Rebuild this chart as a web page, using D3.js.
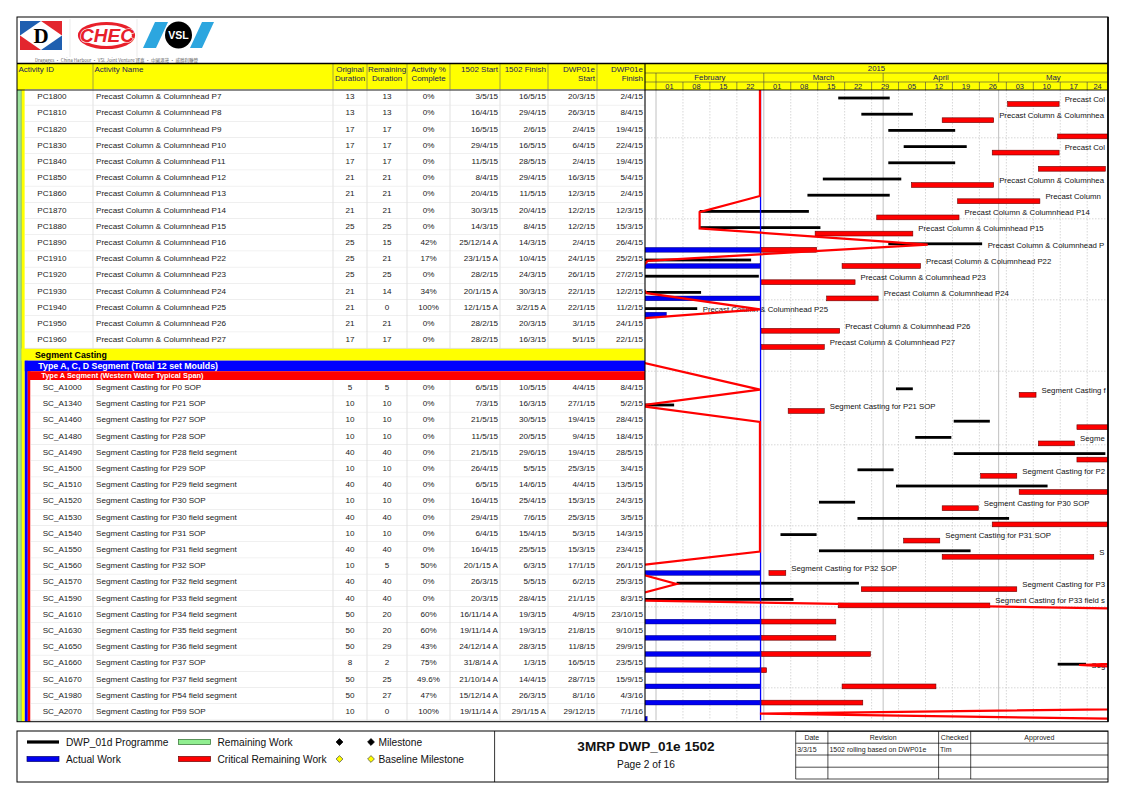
<!DOCTYPE html>
<html>
<head>
<meta charset="utf-8">
<script src="https://cdn.jsdelivr.net/npm/d3@7"></script>
<style>
  body { margin: 0; background: #fff; }
  svg { display: block; font-family: "Liberation Sans", Arial, sans-serif; }
</style>
</head>
<body>
<svg id="chart" width="1123" height="793"></svg>
<script>
// Activities on this page
const activityIds = [
  "PC1800", "PC1810", "PC1820", "PC1830", "PC1840", "PC1850", "PC1860", "PC1870",
  "PC1880", "PC1890", "PC1910", "PC1920", "PC1930", "PC1940", "PC1950", "PC1960",
  "SC_A1000", "SC_A1340", "SC_A1460", "SC_A1480", "SC_A1490", "SC_A1500", "SC_A1510",
  "SC_A1520", "SC_A1530", "SC_A1540", "SC_A1550", "SC_A1560", "SC_A1570", "SC_A1590",
  "SC_A1610", "SC_A1630", "SC_A1650", "SC_A1660", "SC_A1670", "SC_A1980", "SC_A2070"
];
const activityNames = [
  "Precast Column & Columnhead P7", "Precast Column & Columnhead P8", "Precast Column & Columnhead P9",
  "Precast Column & Columnhead P10", "Precast Column & Columnhead P11", "Precast Column & Columnhead P12",
  "Precast Column & Columnhead P13", "Precast Column & Columnhead P14", "Precast Column & Columnhead P15",
  "Precast Column & Columnhead P16", "Precast Column & Columnhead P22", "Precast Column & Columnhead P23",
  "Precast Column & Columnhead P24", "Precast Column & Columnhead P25", "Precast Column & Columnhead P26",
  "Precast Column & Columnhead P27",
  "Segment Casting for P0 SOP", "Segment Casting for P21 SOP", "Segment Casting for P27 SOP",
  "Segment Casting for P28 SOP", "Segment Casting for P28 field segment", "Segment Casting for P29 SOP",
  "Segment Casting for P29 field segment", "Segment Casting for P30 SOP", "Segment Casting for P30 field segment",
  "Segment Casting for P31 SOP", "Segment Casting for P31 field segment", "Segment Casting for P32 SOP",
  "Segment Casting for P32 field segment", "Segment Casting for P33 field segment",
  "Segment Casting for P34 field segment", "Segment Casting for P35 field segment",
  "Segment Casting for P36 field segment", "Segment Casting for P37 SOP",
  "Segment Casting for P37 field segment", "Segment Casting for P54 field segment", "Segment Casting for P59 SOP"
];
const originalDuration = [13, 13, 17, 17, 17, 21, 21, 21, 25, 25, 25, 25, 21, 21, 21, 17,
  5, 10, 10, 10, 40, 10, 40, 10, 40, 10, 40, 10, 40, 40, 50, 50, 50, 8, 50, 50, 10];
const remainingDuration = [13, 13, 17, 17, 17, 21, 21, 21, 25, 15, 21, 25, 14, 0, 21, 17,
  5, 10, 10, 10, 40, 10, 40, 10, 40, 10, 40, 5, 40, 40, 20, 20, 29, 2, 25, 27, 0];
const percentComplete = ["0%", "0%", "0%", "0%", "0%", "0%", "0%", "0%", "0%", "42%", "17%", "0%", "34%", "100%", "0%", "0%",
  "0%", "0%", "0%", "0%", "0%", "0%", "0%", "0%", "0%", "0%", "0%", "50%", "0%", "0%",
  "60%", "60%", "43%", "75%", "49.6%", "47%", "100%"];
const start1502 = ["3/5/15", "16/4/15", "16/5/15", "29/4/15", "11/5/15", "8/4/15", "20/4/15", "30/3/15",
  "14/3/15", "25/12/14 A", "23/1/15 A", "28/2/15", "20/1/15 A", "12/1/15 A", "28/2/15", "28/2/15",
  "6/5/15", "7/3/15", "21/5/15", "11/5/15", "21/5/15", "26/4/15", "6/5/15", "16/4/15", "29/4/15",
  "6/4/15", "16/4/15", "20/1/15 A", "26/3/15", "20/3/15", "16/11/14 A", "19/11/14 A", "24/12/14 A",
  "31/8/14 A", "21/10/14 A", "15/12/14 A", "19/11/14 A"];
const finish1502 = ["16/5/15", "29/4/15", "2/6/15", "16/5/15", "28/5/15", "29/4/15", "11/5/15", "20/4/15",
  "8/4/15", "14/3/15", "10/4/15", "24/3/15", "30/3/15", "3/2/15 A", "20/3/15", "16/3/15",
  "10/5/15", "16/3/15", "30/5/15", "20/5/15", "29/6/15", "5/5/15", "14/6/15", "25/4/15", "7/6/15",
  "15/4/15", "25/5/15", "6/3/15", "5/5/15", "28/4/15", "19/3/15", "19/3/15", "28/3/15",
  "1/3/15", "14/4/15", "26/3/15", "29/1/15 A"];
const dwpStart = ["20/3/15", "26/3/15", "2/4/15", "6/4/15", "2/4/15", "16/3/15", "12/3/15", "12/2/15",
  "12/2/15", "2/4/15", "24/1/15", "26/1/15", "22/1/15", "22/1/15", "3/1/15", "5/1/15",
  "4/4/15", "27/1/15", "19/4/15", "9/4/15", "19/4/15", "25/3/15", "4/4/15", "15/3/15", "25/3/15",
  "5/3/15", "15/3/15", "17/1/15", "6/2/15", "21/1/15", "4/9/15", "21/8/15", "11/8/15",
  "16/5/15", "28/7/15", "8/1/16", "29/12/15"];
const dwpFinish = ["2/4/15", "8/4/15", "19/4/15", "22/4/15", "19/4/15", "5/4/15", "2/4/15", "12/3/15",
  "15/3/15", "26/4/15", "25/2/15", "27/2/15", "12/2/15", "11/2/15", "24/1/15", "22/1/15",
  "8/4/15", "5/2/15", "28/4/15", "18/4/15", "28/5/15", "3/4/15", "13/5/15", "24/3/15", "3/5/15",
  "14/3/15", "23/4/15", "26/1/15", "25/3/15", "8/3/15", "23/10/15", "9/10/15", "29/9/15",
  "23/5/15", "15/9/15", "4/3/16", "7/1/16"];

// WBS headings that open the segment casting block
const wbsHeadings = ["Segment Casting", "Type A, C, D Segment (Total 12 set Moulds)", "Type A Segment (Western Water Typical Span)"];
const wbsColours = ["#ffff00", "#0000ff", "#ff0000"];
const wbsTextColours = ["#000", "#fff", "#fff"];

const dataDate = "28/2/15";
const nextPageProgress = "17/12/15"; // progress line runs off to the next page

const columns = [
  { title: ["Activity ID"], x0: 17, x1: 93 },
  { title: ["Activity Name"], x0: 93, x1: 333 },
  { title: ["Original", "Duration"], x0: 333, x1: 367 },
  { title: ["Remaining", "Duration"], x0: 367, x1: 407 },
  { title: ["Activity %", "Complete"], x0: 407, x1: 450 },
  { title: ["1502 Start"], x0: 450, x1: 500 },
  { title: ["1502 Finish"], x0: 500, x1: 548 },
  { title: ["DWP01e", "Start"], x0: 548, x1: 597 },
  { title: ["DWP01e", "Finish"], x0: 597, x1: 645 }
];

// ---------- set up ----------
const svg = d3.select('#chart');
const parse = d3.timeParse('%d/%m/%y');
function parseDate(s, hour) {
  const d = parse(s.replace(' A', '').trim());
  d.setHours(hour);
  return d;
}
const isActual = s => s.indexOf(' A') > 0;
const DAY = 864e5;

const left = 17, right = 1108, headTop = 63.5, headBottom = 90;
const ganttLeft = 645;
const rowH = 16.2;
const dd = parseDate(dataDate, 0);

// time scale (weeks start on Sunday, Feb 01 at x=656)
const x = d3.scaleTime()
  .domain([new Date(2015, 1, 1), new Date(2015, 2, 1)])
  .range([656, 763.8]);

// build rows
const segStart = activityIds.findIndex(id => id.startsWith('SC_'));
const wbsHeights = [12.2, 10.6, 8.8];
const rows = [];
let yCur = 89.2;
activityIds.forEach((id, i) => {
  if (i === segStart) {
    wbsHeadings.forEach((name, j) => {
      rows.push({ kind: 'wbs', level: j, name, y: yCur, h: wbsHeights[j] });
      yCur += wbsHeights[j];
    });
  }
  rows.push({ kind: 'act', i, y: yCur, h: rowH });
  yCur += rowH;
});
const tableBottom = yCur;
rows.forEach((r, g) => r.g = g);

const acts = activityIds.map((id, i) => {
  const a = { id, name: activityNames[i], pct: parseFloat(percentComplete[i]) };
  a.seg = i >= segStart;
  a.row = rows.find(r => r.kind === 'act' && r.i === i);
  a.bStart = parseDate(dwpStart[i], 8);
  a.bFinish = parseDate(dwpFinish[i], 17);
  a.start = parseDate(start1502[i], 8);
  a.finish = parseDate(finish1502[i], 17);
  a.started = isActual(start1502[i]);
  a.done = isActual(finish1502[i]);
  if (a.started) a.actual = [a.start, a.done ? a.finish : dd];
  if (!a.done) {
    let rs = a.started ? new Date(+parseDate(finish1502[i], 8) + (1 - remainingDuration[i]) * DAY) : a.start;
    if (rs < dd) rs = dd;
    a.remaining = [rs, a.finish];
  }
  // progress line point on the baseline bar
  if (a.pct >= 100 || (a.pct === 0 && a.bStart >= dd)) a.progress = dd;
  else a.progress = new Date(+a.bStart + a.pct / 100 * (a.bFinish - a.bStart));
  a.labelAt = d3.max([a.bFinish, a.actual ? a.actual[1] : null, a.remaining ? a.remaining[1] : null]);
  return a;
});

// ---------- logos ----------
const logo = svg.append('g');
// Dragages
logo.append('rect').attr('x', 20).attr('y', 21).attr('width', 42).attr('height', 29).attr('fill', '#fff');
logo.append('path').attr('d', 'M20,21 L41,21 L20,35.5 Z').attr('fill', '#1f5fb0');
logo.append('path').attr('d', 'M41,21 L62,21 L62,35.5 Z').attr('fill', '#e3262e');
logo.append('path').attr('d', 'M20,35.5 L20,50 L41,50 Z').attr('fill', '#e3262e');
logo.append('path').attr('d', 'M62,35.5 L62,50 L41,50 Z').attr('fill', '#1f5fb0');
logo.append('text').attr('x', 41).attr('y', 42.5).attr('text-anchor', 'middle')
  .attr('font-family', '"Liberation Serif", serif').attr('font-weight', 'bold').attr('font-size', 21).text('D');
// CHEC
logo.append('ellipse').attr('cx', 106.5).attr('cy', 35.5).attr('rx', 27).attr('ry', 12)
  .attr('fill', 'none').attr('stroke', '#e8202a').attr('stroke-width', 3.2);
logo.append('text').attr('x', 107).attr('y', 42).attr('text-anchor', 'middle')
  .attr('font-weight', 'bold').attr('font-style', 'italic').attr('font-size', 19)
  .attr('fill', '#e8202a').attr('stroke', '#fff').attr('stroke-width', 1.2).attr('paint-order', 'stroke')
  .text('CHEC');
// VSL
logo.append('path').attr('d', 'M143,48 L155,22 L168,22 L156,48 Z').attr('fill', '#2ca6df');
logo.append('path').attr('d', 'M190,48 L202,22 L214,22 L202,48 Z').attr('fill', '#2ca6df');
logo.append('circle').attr('cx', 178.5).attr('cy', 35).attr('r', 13.5).attr('fill', '#000');
logo.append('text').attr('x', 178.5).attr('y', 38.8).attr('text-anchor', 'middle')
  .attr('font-weight', 'bold').attr('font-size', 10.5).attr('fill', '#fff').text('VSL');
[70, 137].forEach(lx => logo.append('line').attr('x1', lx).attr('x2', lx).attr('y1', 19).attr('y2', 57)
  .attr('stroke', '#ddd').attr('stroke-width', 0.6));
logo.append('text').attr('x', 35).attr('y', 62).attr('font-size', 4.6).attr('fill', '#666')
  .attr('textLength', 163).attr('lengthAdjust', 'spacingAndGlyphs')
  .attr('font-family', '"Noto Sans CJK TC", "Liberation Sans", sans-serif')
  .text('Dragages · China Harbour · VSL Joint Venture 寶嘉 · 中國港灣 · 威勝利聯營');

// ---------- header ----------
const head = svg.append('g');
head.append('rect').attr('x', left).attr('y', headTop).attr('width', right - left).attr('height', headBottom - headTop)
  .attr('fill', '#ffff00');
columns.forEach((c, ci) => {
  if (ci > 0) head.append('line').attr('x1', c.x0).attr('x2', c.x0).attr('y1', headTop).attr('y2', headBottom)
    .attr('stroke', '#666').attr('stroke-width', 0.6);
  c.title.forEach((t, li) => {
    let tx, anchor;
    if (ci < 2) { tx = c.x0 + 1.5; anchor = 'start'; }
    else if (ci < 5) { tx = (c.x0 + c.x1) / 2; anchor = 'middle'; }
    else { tx = c.x1 - 2; anchor = 'end'; }
    head.append('text').attr('x', tx).attr('y', 71.5 + li * 9).attr('text-anchor', anchor)
      .attr('font-size', 8).attr('fill', '#20205a').text(t);
  });
});

// timescale header
const gStart = x.invert(ganttLeft), gEnd = x.invert(right);
const weeks = d3.timeWeek.range(d3.timeWeek.floor(gStart), gEnd);
const months = d3.timeMonth.range(d3.timeMonth.floor(gStart), gEnd);
const clampX = v => Math.max(ganttLeft, Math.min(right, v));
const monthRow = [73, 82], weekRow = [82, 90];
[73, 82].forEach(ly => head.append('line').attr('x1', ganttLeft).attr('x2', right).attr('y1', ly).attr('y2', ly)
  .attr('stroke', '#444').attr('stroke-width', 0.6));
head.append('text').attr('x', (ganttLeft + right) / 2).attr('y', 71.3).attr('text-anchor', 'middle')
  .attr('font-size', 7.8).attr('fill', '#20205a').text(d3.timeFormat('%Y')(gStart));
months.forEach(m => {
  const x0 = clampX(x(m)), x1 = clampX(x(d3.timeMonth.offset(m, 1)));
  if (x(m) > ganttLeft) head.append('line').attr('x1', x0).attr('x2', x0).attr('y1', monthRow[0]).attr('y2', monthRow[1])
    .attr('stroke', '#444').attr('stroke-width', 0.6);
  if (x1 - x0 > 20) head.append('text').attr('x', (x0 + x1) / 2).attr('y', 80.3).attr('text-anchor', 'middle')
    .attr('font-size', 7.8).attr('fill', '#20205a').text(d3.timeFormat('%B')(m));
});
weeks.forEach(w => {
  const x0 = clampX(x(w)), x1 = clampX(x(d3.timeWeek.offset(w, 1)));
  if (x(w) > ganttLeft) head.append('line').attr('x1', x0).attr('x2', x0).attr('y1', weekRow[0]).attr('y2', weekRow[1])
    .attr('stroke', '#444').attr('stroke-width', 0.6);
  if (x1 - x0 > 14) head.append('text').attr('x', (x0 + x1) / 2).attr('y', 88.6).attr('text-anchor', 'middle')
    .attr('font-size', 7.5).attr('fill', '#20205a').text(d3.timeFormat('%d')(w));
});

// ---------- table body ----------
const table = svg.append('g');
const stripeX = [17, 21.5, 24.8, 27.8, 30.5];
const stripeColours = ['#9de39d', '#ffff00', '#0000ff', '#ff0000'];
const wbsRows = rows.filter(r => r.kind === 'wbs');
stripeColours.forEach((c, k) => {
  const y0 = k < 2 ? headBottom : wbsRows[k - 1].y;
  table.append('rect').attr('x', stripeX[k]).attr('y', y0).attr('width', stripeX[k + 1] - stripeX[k])
    .attr('height', tableBottom + 1.5 - y0).attr('fill', c);
});
table.append('line').attr('x1', 21.3).attr('x2', 21.3).attr('y1', headBottom).attr('y2', tableBottom + 1.5)
  .attr('stroke', '#4a9a4a').attr('stroke-width', 0.5);

wbsRows.forEach(r => {
  const bx = stripeX[r.level + 1];
  table.append('rect').attr('x', bx).attr('y', r.y).attr('width', ganttLeft - bx).attr('height', r.h)
    .attr('fill', wbsColours[r.level]);
  table.append('text').attr('x', bx + 13.5).attr('y', r.y + r.h / 2).attr('dy', '0.36em')
    .attr('font-size', r.level === 2 ? 7.4 : 8.8).attr('font-weight', 'bold')
    .attr('fill', wbsTextColours[r.level]).text(r.name);
});

acts.forEach((a, i) => {
  const r = a.row;
  const rl = a.seg ? stripeX[4] : stripeX[2];
  const g = table.append('g').attr('transform', `translate(0,${r.y})`);
  g.append('rect').attr('x', rl).attr('width', ganttLeft - rl).attr('height', r.h).attr('fill', '#fff');
  g.append('line').attr('x1', rl).attr('x2', ganttLeft).attr('y1', r.h).attr('y2', r.h)
    .attr('stroke', '#d4d4d4').attr('stroke-width', 0.7);
  columns.slice(1).forEach(c => g.append('line').attr('x1', c.x0).attr('x2', c.x0).attr('y1', 0).attr('y2', r.h)
    .attr('stroke', '#d4d4d4').attr('stroke-width', 0.7));
  const ty = 7.2;
  const cell = (tx, anchor, t) => g.append('text').attr('x', tx).attr('y', ty).attr('dy', '0.35em')
    .attr('text-anchor', anchor).attr('font-size', 8.1).attr('fill', '#1a1a1a').text(t);
  cell(a.seg ? 42.7 : 37.3, 'start', a.id);
  cell(96, 'start', a.name);
  cell(350, 'middle', originalDuration[i]);
  cell(387, 'middle', remainingDuration[i]);
  cell(428.5, 'middle', percentComplete[i]);
  cell(498, 'end', start1502[i]);
  cell(546, 'end', finish1502[i]);
  cell(595, 'end', dwpStart[i]);
  cell(643, 'end', dwpFinish[i]);
});

// ---------- gantt ----------
svg.append('clipPath').attr('id', 'gclip').append('rect')
  .attr('x', ganttLeft).attr('y', headBottom).attr('width', right - ganttLeft).attr('height', tableBottom + 1 - headBottom);
const gantt = svg.append('g').attr('clip-path', 'url(#gclip)');

// vertical grid
const monthSet = new Set(months.map(m => +m));
weeks.forEach(w => {
  if (monthSet.has(+w)) return;
  gantt.append('line').attr('x1', x(w)).attr('x2', x(w)).attr('y1', headBottom).attr('y2', tableBottom)
    .attr('stroke', '#bcbcbc').attr('stroke-width', 0.6).attr('stroke-dasharray', '1.5,1.5');
});
months.forEach(m => {
  gantt.append('line').attr('x1', x(m)).attr('x2', x(m)).attr('y1', headBottom).attr('y2', tableBottom)
    .attr('stroke', '#b0b0b0').attr('stroke-width', 0.8);
});
// every fifth row
rows.filter(r => r.g % 5 === 2).forEach(r => {
  gantt.append('line').attr('x1', ganttLeft).attr('x2', right).attr('y1', r.y + r.h).attr('y2', r.y + r.h)
    .attr('stroke', '#bcbcbc').attr('stroke-width', 0.6).attr('stroke-dasharray', '1.5,1.5');
});

const barX = d => x(d);
acts.forEach(a => {
  const t = a.row.y;
  gantt.append('rect').attr('x', barX(a.bStart)).attr('y', t + 7.4)
    .attr('width', barX(a.bFinish) - barX(a.bStart)).attr('height', 2.8).attr('fill', '#000');
  if (a.actual) gantt.append('rect').attr('x', barX(a.actual[0])).attr('y', t + 12.4)
    .attr('width', barX(a.actual[1]) - barX(a.actual[0])).attr('height', 4.8)
    .attr('fill', '#0000f0').attr('stroke', '#00006a').attr('stroke-width', 0.4);
  if (a.remaining) gantt.append('rect').attr('x', barX(a.remaining[0])).attr('y', t + 12.4)
    .attr('width', barX(a.remaining[1]) - barX(a.remaining[0])).attr('height', 4.8)
    .attr('fill', '#ff0000').attr('stroke', '#6a0000').attr('stroke-width', 0.6);
  // bar label, cut at the chart edge like the print
  const lx = barX(a.labelAt) + 5.5;
  if (lx < right - 4) {
    const lab = gantt.append('text').attr('x', lx).attr('y', t + 9.8).attr('dy', '0.35em')
      .attr('font-size', 7.8).attr('fill', '#111').text(a.name);
    let txt = a.name;
    while (txt.length > 1 && lx + lab.node().getComputedTextLength() > right - 0.5) {
      txt = txt.slice(0, -1);
      lab.text(txt);
    }
  }
});

// data date line
gantt.append('line').attr('x1', x(dd) + 0.6).attr('x2', x(dd) + 0.6).attr('y1', headBottom).attr('y2', tableBottom)
  .attr('stroke', '#0000ff').attr('stroke-width', 1.3);

// progress line
const lastRow = rows[rows.length - 1];
const progressPts = [[x(dd), headBottom]]
  .concat(acts.map(a => [x(a.progress), a.row.y + 9.6]))
  .concat([[x(parseDate(nextPageProgress, 8)), lastRow.y + lastRow.h + 9.6]]);
gantt.append('path').attr('d', d3.line()(progressPts)).attr('fill', 'none')
  .attr('stroke', '#ff0000').attr('stroke-width', 2.2).attr('stroke-linejoin', 'miter');

// ---------- frames ----------
const frame = svg.append('g').attr('fill', 'none').attr('stroke', '#000');
frame.append('rect').attr('x', left).attr('y', 17).attr('width', right - left).attr('height', tableBottom + 1.5 - 17)
  .attr('stroke-width', 1);
frame.append('line').attr('x1', left).attr('x2', right).attr('y1', headTop).attr('y2', headTop).attr('stroke-width', 1.6);
frame.append('line').attr('x1', left).attr('x2', right).attr('y1', headBottom).attr('y2', headBottom).attr('stroke-width', 0.9);
frame.append('line').attr('x1', ganttLeft).attr('x2', ganttLeft).attr('y1', headTop).attr('y2', tableBottom + 1.5)
  .attr('stroke-width', 1.1);
frame.append('line').attr('x1', right).attr('x2', right).attr('y1', 17).attr('y2', tableBottom + 1.5).attr('stroke-width', 1.6);

// ---------- legend / title block ----------
const foot = svg.append('g');
const fy0 = 731, fy1 = 782;
foot.append('rect').attr('x', left).attr('y', fy0).attr('width', right - left).attr('height', fy1 - fy0)
  .attr('fill', 'none').attr('stroke', '#000').attr('stroke-width', 1);
foot.append('line').attr('x1', 494.6).attr('x2', 494.6).attr('y1', fy0).attr('y2', fy1).attr('stroke', '#000').attr('stroke-width', 0.8);

const legendItems = [
  { label: 'DWP_01d Programme', x: 27, y: 742, kind: 'line', fill: '#000' },
  { label: 'Actual Work', x: 27, y: 759, kind: 'bar', fill: '#0000f0', stroke: '#00006a' },
  { label: 'Remaining Work', x: 178.5, y: 742, kind: 'bar', fill: '#90ee90', stroke: '#2d6b2d' },
  { label: 'Critical Remaining Work', x: 178.5, y: 759, kind: 'bar', fill: '#ff0000', stroke: '#6a0000' }
];
legendItems.forEach(it => {
  if (it.kind === 'line') foot.append('rect').attr('x', it.x).attr('y', it.y - 1.6).attr('width', 32).attr('height', 3.2).attr('fill', it.fill);
  else foot.append('rect').attr('x', it.x).attr('y', it.y - 2.5).attr('width', 32).attr('height', 5)
    .attr('fill', it.fill).attr('stroke', it.stroke).attr('stroke-width', 0.7);
  foot.append('text').attr('x', it.x + 39).attr('y', it.y).attr('dy', '0.36em').attr('font-size', 10.2)
    .attr('fill', '#111').text(it.label);
});
const diamond = (cx, cy, r) => `M${cx},${cy - r}L${cx + r},${cy}L${cx},${cy + r}L${cx - r},${cy}Z`;
const milestoneItems = [
  { label: 'Milestone', y: 742, fill: '#000', stroke: '#000' },
  { label: 'Baseline Milestone', y: 759, fill: '#ffff00', stroke: '#555' }
];
milestoneItems.forEach(m => {
  foot.append('path').attr('d', diamond(339.5, m.y, 3.4)).attr('fill', m.fill).attr('stroke', m.stroke).attr('stroke-width', 0.8);
  foot.append('path').attr('d', diamond(371, m.y, 3.4)).attr('fill', m.fill).attr('stroke', m.stroke).attr('stroke-width', 0.8);
  foot.append('text').attr('x', 378.5).attr('y', m.y).attr('dy', '0.36em').attr('font-size', 10.2)
    .attr('fill', '#111').text(m.label);
});

foot.append('text').attr('x', 646).attr('y', 746).attr('dy', '0.36em').attr('text-anchor', 'middle')
  .attr('font-size', 13.6).attr('font-weight', 'bold').attr('fill', '#111').text('3MRP DWP_01e 1502');
foot.append('text').attr('x', 646).attr('y', 764.5).attr('dy', '0.36em').attr('text-anchor', 'middle')
  .attr('font-size', 10.2).attr('fill', '#111').text('Page 2 of 16');

// revision table
const revCols = [795.7, 827.9, 938.6, 970.7, right];
const revRows = [731.4, 743.2, 755, 767.2, 779];
const revHeads = ['Date', 'Revision', 'Checked', 'Approved'];
const revEntries = [['3/3/15', '1502 rolling based on DWP01e', 'Tim', '']];
revRows.forEach(ry => foot.append('line').attr('x1', revCols[0]).attr('x2', right).attr('y1', ry).attr('y2', ry)
  .attr('stroke', '#000').attr('stroke-width', 0.7));
revCols.slice(0, 4).forEach(cx => foot.append('line').attr('x1', cx).attr('x2', cx).attr('y1', revRows[0]).attr('y2', revRows[4])
  .attr('stroke', '#000').attr('stroke-width', 0.7));
revHeads.forEach((h, k) => foot.append('text').attr('x', (revCols[k] + revCols[k + 1]) / 2).attr('y', 737.3).attr('dy', '0.36em')
  .attr('text-anchor', 'middle').attr('font-size', 7).attr('fill', '#222').text(h));
revEntries.forEach((row, ri) => row.forEach((v, k) => foot.append('text').attr('x', revCols[k] + 1.5)
  .attr('y', (revRows[ri + 1] + revRows[ri + 2]) / 2).attr('dy', '0.36em').attr('font-size', 7).attr('fill', '#222').text(v)));
</script>
</body>
</html>
